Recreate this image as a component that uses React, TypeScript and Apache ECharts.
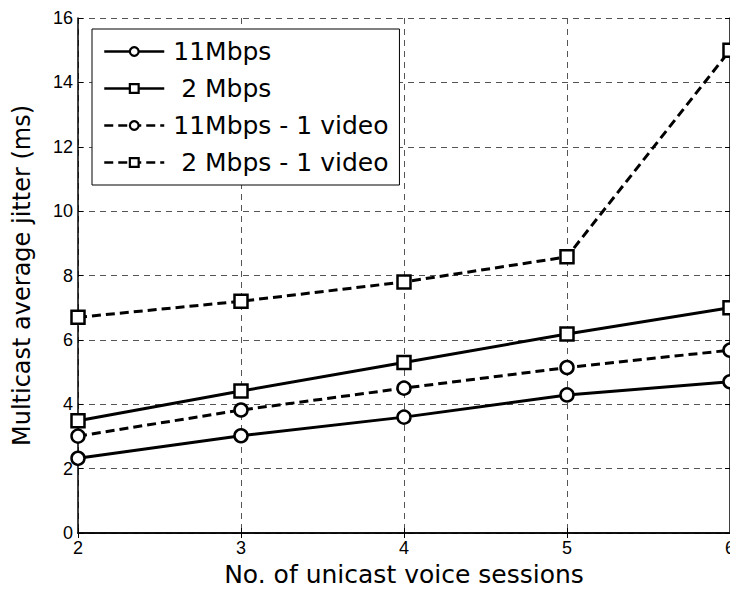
import React, { useEffect, useRef } from "react";
import * as echarts from "echarts";

const sessions = [2, 3, 4, 5, 6];
const mbps11 = [2.32, 3.02, 3.6, 4.29, 4.7];
const mbps2 = [3.49, 4.41, 5.3, 6.18, 7.0];
const mbps11Video = [3.01, 3.82, 4.5, 5.14, 5.68];
const mbps2Video = [6.7, 7.2, 7.8, 8.58, 15.0];
const yTicks = [0, 2, 4, 6, 8, 10, 12, 14, 16];
const xTicks = [2, 3, 4, 5, 6];

const FONT = "'Liberation Sans', Arial, Helvetica, sans-serif";
const WIDE = "'DejaVu Sans', 'Liberation Sans', sans-serif";

function pairs(vals: number[]) {
  return sessions.map((s, i) => [s, vals[i]]);
}

export default function App() {
  const ref = useRef<HTMLDivElement>(null);
  useEffect(() => {
    if (!ref.current) return;
    const chart = echarts.init(ref.current, undefined, { renderer: "svg" });
    const mk = (name: string, vals: number[], dashed: boolean, symbol: string) => ({
      name,
      type: "line",
      data: pairs(vals),
      symbol,
      symbolSize: 13,
      showSymbol: true,
      lineStyle: { color: "#000", width: 3, type: dashed ? [9, 5] : "solid" },
      itemStyle: { color: "#fff", borderColor: "#000", borderWidth: 2.5 },
      emphasis: { disabled: true },
    });
    const gridLine = { show: true, lineStyle: { color: "#555", width: 1, type: [6, 5] } };
    const tick = { show: true, inside: true, length: 5, lineStyle: { color: "#000" } };
    chart.setOption({
      animation: false,
      backgroundColor: "#fff",
      grid: { left: 78, right: 6, top: 18, bottom: 62 },
      legend: {
        orient: "vertical",
        left: 92,
        top: 29,
        padding: [4, 11, 4, 11],
        itemGap: 0,
        itemWidth: 60,
        itemHeight: 11,
        backgroundColor: "#fff",
        borderColor: "#000",
        borderWidth: 1,
        borderRadius: 0,
        lineStyle: { width: 2.5 },
        itemStyle: { borderWidth: 2.2 },
        textStyle: { fontFamily: WIDE, fontSize: 25, color: "#000", lineHeight: 37, padding: [0, 0, 0, 4] },
        data: ["11Mbps", " 2 Mbps", "11Mbps - 1 video", " 2 Mbps - 1 video"],
      },
      xAxis: [
        {
          type: "value",
          min: xTicks[0],
          max: xTicks[xTicks.length - 1],
          interval: 1,
          name: "No. of unicast voice sessions",
          nameLocation: "middle",
          nameGap: 25,
          nameTextStyle: { fontFamily: WIDE, fontSize: 25, color: "#000" },
          axisLine: { show: true, lineStyle: { color: "#000", width: 1.5 } },
          axisTick: tick,
          axisLabel: { fontFamily: FONT, fontSize: 18, color: "#000", margin: 6 },
          splitLine: gridLine,
        },
        {
          type: "value",
          position: "top",
          min: xTicks[0],
          max: xTicks[xTicks.length - 1],
          interval: 1,
          axisLine: { show: true, lineStyle: { color: "#000", width: 1.5 } },
          axisTick: tick,
          axisLabel: { show: false },
          splitLine: { show: false },
        },
      ],
      yAxis: [
        {
          type: "value",
          min: yTicks[0],
          max: yTicks[yTicks.length - 1],
          interval: 2,
          name: "Multicast average jitter (ms)",
          nameLocation: "middle",
          nameGap: 44,
          nameTextStyle: { fontFamily: WIDE, fontSize: 24, color: "#000" },
          axisLine: { show: true, lineStyle: { color: "#000", width: 1.5 } },
          axisTick: tick,
          axisLabel: { fontFamily: FONT, fontSize: 18, color: "#000", margin: 5 },
          splitLine: gridLine,
        },
        {
          type: "value",
          position: "right",
          min: yTicks[0],
          max: yTicks[yTicks.length - 1],
          interval: 2,
          axisLine: { show: true, lineStyle: { color: "#000", width: 1.5 } },
          axisTick: tick,
          axisLabel: { show: false },
          splitLine: { show: false },
        },
      ],
      series: [
        mk("11Mbps", mbps11, false, "circle"),
        mk(" 2 Mbps", mbps2, false, "rect"),
        mk("11Mbps - 1 video", mbps11Video, true, "circle"),
        mk(" 2 Mbps - 1 video", mbps2Video, true, "rect"),
      ],
    });
    return () => chart.dispose();
  }, []);
  return <div ref={ref} style={{ width: 738, height: 595, margin: -8 }} />;
}
